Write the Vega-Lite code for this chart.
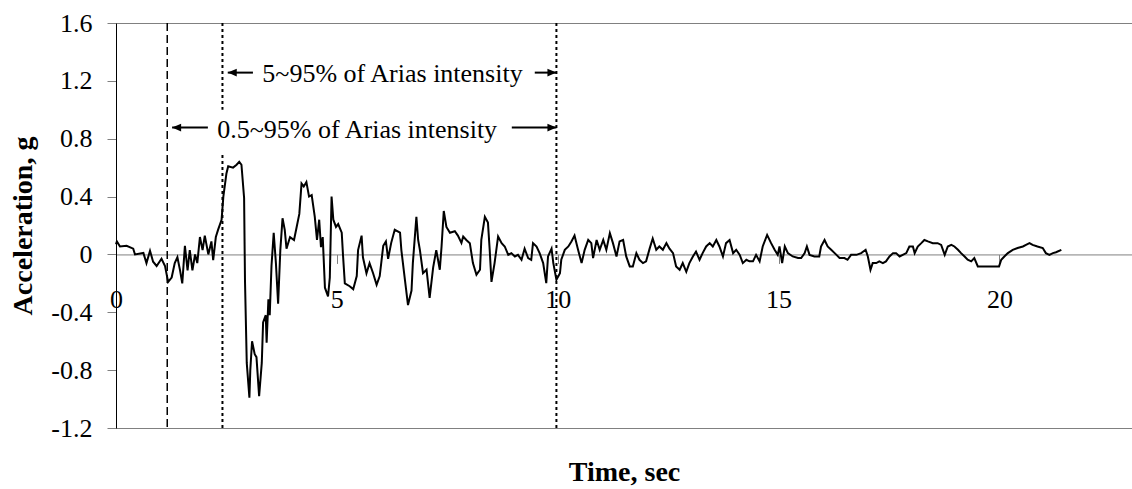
{
  "$schema": "https://vega.github.io/schema/vega-lite/v6.json",
  "width": 1016,
  "height": 405,
  "autosize": {"type": "none"},
  "padding": {"left": 116, "top": 23, "right": 0, "bottom": 61},
  "config": {
    "font": "Liberation Serif",
    "view": {"stroke": "#808080", "strokeWidth": 1},
    "axis": {
      "grid": false,
      "labelFont": "Liberation Serif",
      "labelFontSize": 26,
      "labelColor": "#000000",
      "titleFont": "Liberation Serif",
      "titleFontSize": 28,
      "titleFontWeight": "bold",
      "titleColor": "#000000",
      "tickColor": "#808080",
      "tickSize": 9,
      "tickWidth": 1,
      "labelFlush": false
    }
  },
  "datasets": {
    "trace": [
      {"t":0.0,"a":0.07},{"t":0.02,"a":0.09},{"t":0.09,"a":0.055},{"t":0.24,"a":0.06},{"t":0.39,"a":0.04},{"t":0.43,"a":0.0},{"t":0.62,"a":0.01},{"t":0.69,"a":-0.06},{"t":0.77,"a":0.025},{"t":0.84,"a":-0.05},{"t":0.92,"a":-0.08},{"t":1.03,"a":-0.03},{"t":1.11,"a":-0.08},{"t":1.18,"a":-0.19},{"t":1.26,"a":-0.16},{"t":1.33,"a":-0.06},{"t":1.39,"a":-0.02},{"t":1.45,"a":-0.11},{"t":1.50,"a":-0.2},{"t":1.56,"a":0.06},{"t":1.62,"a":-0.11},{"t":1.67,"a":0.03},{"t":1.73,"a":-0.11},{"t":1.79,"a":0.0},{"t":1.84,"a":-0.06},{"t":1.90,"a":0.12},{"t":1.96,"a":0.03},{"t":2.01,"a":0.13},{"t":2.09,"a":0.0},{"t":2.16,"a":0.09},{"t":2.20,"a":-0.04},{"t":2.26,"a":0.12},{"t":2.31,"a":0.17},{"t":2.39,"a":0.24},{"t":2.43,"a":0.40},{"t":2.50,"a":0.56},{"t":2.54,"a":0.61},{"t":2.65,"a":0.60},{"t":2.73,"a":0.62},{"t":2.79,"a":0.64},{"t":2.84,"a":0.62},{"t":2.90,"a":0.39},{"t":2.92,"a":-0.18},{"t":2.96,"a":-0.75},{"t":3.02,"a":-0.99},{"t":3.04,"a":-0.80},{"t":3.08,"a":-0.60},{"t":3.14,"a":-0.69},{"t":3.18,"a":-0.71},{"t":3.24,"a":-0.98},{"t":3.30,"a":-0.75},{"t":3.33,"a":-0.47},{"t":3.39,"a":-0.42},{"t":3.41,"a":-0.61},{"t":3.45,"a":-0.31},{"t":3.48,"a":-0.42},{"t":3.52,"a":-0.08},{"t":3.57,"a":0.15},{"t":3.62,"a":-0.06},{"t":3.67,"a":-0.34},{"t":3.72,"a":0.03},{"t":3.77,"a":0.25},{"t":3.82,"a":0.17},{"t":3.86,"a":0.04},{"t":3.94,"a":0.12},{"t":4.03,"a":0.10},{"t":4.09,"a":0.19},{"t":4.15,"a":0.28},{"t":4.20,"a":0.49},{"t":4.25,"a":0.47},{"t":4.31,"a":0.50},{"t":4.37,"a":0.40},{"t":4.43,"a":0.41},{"t":4.50,"a":0.26},{"t":4.55,"a":0.10},{"t":4.60,"a":0.24},{"t":4.64,"a":0.05},{"t":4.68,"a":0.12},{"t":4.73,"a":-0.23},{"t":4.80,"a":-0.29},{"t":4.84,"a":-0.16},{"t":4.88,"a":0.40},{"t":4.92,"a":0.24},{"t":4.98,"a":0.19},{"t":5.03,"a":0.21},{"t":5.11,"a":0.15},{"t":5.14,"a":-0.01},{"t":5.18,"a":-0.2},{"t":5.29,"a":-0.22},{"t":5.37,"a":-0.24},{"t":5.45,"a":-0.15},{"t":5.48,"a":0.03},{"t":5.56,"a":0.13},{"t":5.59,"a":-0.02},{"t":5.67,"a":-0.13},{"t":5.74,"a":-0.06},{"t":5.82,"a":-0.13},{"t":5.90,"a":-0.21},{"t":5.97,"a":-0.15},{"t":6.05,"a":0.06},{"t":6.11,"a":0.09},{"t":6.16,"a":-0.03},{"t":6.23,"a":0.08},{"t":6.31,"a":0.17},{"t":6.43,"a":0.15},{"t":6.46,"a":0.03},{"t":6.54,"a":-0.175},{"t":6.61,"a":-0.35},{"t":6.69,"a":-0.25},{"t":6.72,"a":-0.06},{"t":6.80,"a":0.26},{"t":6.84,"a":0.1},{"t":6.88,"a":0.03},{"t":6.95,"a":-0.13},{"t":7.03,"a":-0.106},{"t":7.10,"a":-0.30},{"t":7.18,"a":-0.09},{"t":7.25,"a":0.03},{"t":7.33,"a":-0.106},{"t":7.37,"a":0.055},{"t":7.42,"a":0.30},{"t":7.48,"a":0.19},{"t":7.56,"a":0.15},{"t":7.67,"a":0.16},{"t":7.74,"a":0.13},{"t":7.82,"a":0.08},{"t":7.86,"a":0.124},{"t":7.93,"a":0.10},{"t":8.01,"a":0.078},{"t":8.08,"a":-0.06},{"t":8.16,"a":-0.14},{"t":8.24,"a":-0.106},{"t":8.27,"a":0.10},{"t":8.35,"a":0.26},{"t":8.42,"a":0.22},{"t":8.46,"a":0.03},{"t":8.50,"a":-0.19},{"t":8.57,"a":-0.06},{"t":8.65,"a":0.124},{"t":8.73,"a":0.078},{"t":8.80,"a":0.055},{"t":8.88,"a":-0.003},{"t":8.95,"a":0.009},{"t":9.03,"a":-0.014},{"t":9.10,"a":-0.003},{"t":9.18,"a":-0.037},{"t":9.25,"a":0.04},{"t":9.33,"a":-0.025},{"t":9.40,"a":-0.037},{"t":9.44,"a":0.078},{"t":9.52,"a":0.055},{"t":9.59,"a":0.009},{"t":9.67,"a":-0.06},{"t":9.74,"a":-0.198},{"t":9.78,"a":-0.014},{"t":9.86,"a":0.04},{"t":9.90,"a":-0.06},{"t":9.97,"a":-0.175},{"t":10.05,"a":-0.13},{"t":10.08,"a":-0.037},{"t":10.16,"a":0.032},{"t":10.24,"a":0.055},{"t":10.31,"a":0.09},{"t":10.38,"a":0.13},{"t":10.46,"a":0.032},{"t":10.54,"a":-0.06},{"t":10.61,"a":0.032},{"t":10.69,"a":0.10},{"t":10.76,"a":0.078},{"t":10.80,"a":-0.025},{"t":10.88,"a":0.10},{"t":10.95,"a":0.032},{"t":11.03,"a":0.10},{"t":11.10,"a":0.032},{"t":11.18,"a":0.147},{"t":11.25,"a":0.078},{"t":11.33,"a":-0.014},{"t":11.40,"a":0.09},{"t":11.48,"a":0.10},{"t":11.55,"a":-0.014},{"t":11.63,"a":-0.083},{"t":11.70,"a":-0.083},{"t":11.78,"a":0.009},{"t":11.85,"a":-0.037},{"t":11.93,"a":-0.06},{"t":12.00,"a":-0.048},{"t":12.08,"a":0.04},{"t":12.15,"a":0.11},{"t":12.23,"a":0.032},{"t":12.30,"a":0.055},{"t":12.38,"a":0.032},{"t":12.46,"a":0.078},{"t":12.53,"a":0.04},{"t":12.61,"a":0.009},{"t":12.68,"a":-0.083},{"t":12.76,"a":-0.106},{"t":12.83,"a":-0.06},{"t":12.91,"a":-0.12},{"t":12.98,"a":-0.06},{"t":13.06,"a":-0.014},{"t":13.13,"a":0.02},{"t":13.21,"a":-0.037},{"t":13.28,"a":0.009},{"t":13.36,"a":0.055},{"t":13.44,"a":0.078},{"t":13.51,"a":0.055},{"t":13.59,"a":0.10},{"t":13.66,"a":0.055},{"t":13.74,"a":-0.014},{"t":13.81,"a":0.078},{"t":13.89,"a":0.10},{"t":13.97,"a":0.009},{"t":14.04,"a":0.032},{"t":14.12,"a":-0.003},{"t":14.19,"a":-0.06},{"t":14.27,"a":-0.037},{"t":14.34,"a":-0.048},{"t":14.42,"a":-0.048},{"t":14.49,"a":-0.003},{"t":14.57,"a":-0.048},{"t":14.64,"a":0.055},{"t":14.74,"a":0.135},{"t":14.83,"a":0.078},{"t":14.91,"a":0.032},{"t":14.98,"a":-0.003},{"t":15.02,"a":0.055},{"t":15.08,"a":-0.06},{"t":15.14,"a":0.055},{"t":15.21,"a":0.009},{"t":15.32,"a":-0.014},{"t":15.44,"a":-0.025},{"t":15.51,"a":-0.025},{"t":15.59,"a":0.009},{"t":15.64,"a":0.055},{"t":15.70,"a":-0.003},{"t":15.81,"a":-0.014},{"t":15.92,"a":-0.014},{"t":15.96,"a":0.055},{"t":16.04,"a":0.10},{"t":16.11,"a":0.055},{"t":16.19,"a":0.032},{"t":16.31,"a":-0.003},{"t":16.38,"a":-0.025},{"t":16.49,"a":-0.025},{"t":16.56,"a":-0.037},{"t":16.64,"a":-0.003},{"t":16.76,"a":-0.003},{"t":16.87,"a":0.009},{"t":16.97,"a":0.032},{"t":17.02,"a":-0.014},{"t":17.08,"a":-0.106},{"t":17.13,"a":-0.06},{"t":17.21,"a":-0.06},{"t":17.28,"a":-0.048},{"t":17.36,"a":-0.06},{"t":17.43,"a":-0.048},{"t":17.51,"a":-0.014},{"t":17.59,"a":0.009},{"t":17.66,"a":0.009},{"t":17.74,"a":-0.014},{"t":17.81,"a":-0.003},{"t":17.89,"a":0.009},{"t":17.96,"a":0.055},{"t":18.04,"a":0.055},{"t":18.08,"a":0.009},{"t":18.15,"a":0.055},{"t":18.23,"a":0.078},{"t":18.30,"a":0.10},{"t":18.38,"a":0.09},{"t":18.49,"a":0.078},{"t":18.60,"a":0.078},{"t":18.68,"a":0.066},{"t":18.76,"a":-0.003},{"t":18.83,"a":0.055},{"t":18.91,"a":0.066},{"t":18.98,"a":0.055},{"t":19.06,"a":0.032},{"t":19.13,"a":0.009},{"t":19.21,"a":-0.014},{"t":19.28,"a":-0.037},{"t":19.36,"a":-0.048},{"t":19.43,"a":-0.025},{"t":19.51,"a":-0.083},{"t":19.62,"a":-0.083},{"t":19.77,"a":-0.083},{"t":19.92,"a":-0.083},{"t":19.99,"a":-0.083},{"t":20.04,"a":-0.037},{"t":20.11,"a":-0.014},{"t":20.19,"a":0.009},{"t":20.30,"a":0.032},{"t":20.41,"a":0.044},{"t":20.53,"a":0.055},{"t":20.60,"a":0.066},{"t":20.68,"a":0.078},{"t":20.75,"a":0.066},{"t":20.86,"a":0.055},{"t":20.98,"a":0.044},{"t":21.05,"a":0.009},{"t":21.13,"a":-0.003},{"t":21.21,"a":0.009},{"t":21.28,"a":0.015},{"t":21.40,"a":0.032}
    ],
    "markers": [
      {"t": 1.16, "kind": "0.5% Arias"},
      {"t": 2.41, "kind": "5% Arias"},
      {"t": 9.97, "kind": "95% Arias"}
    ],
    "arrows": [
      {"band": "5~95%", "a": 1.257, "t": 3.10, "tip": 2.53, "dir": "left"},
      {"band": "5~95%", "a": 1.257, "t": 9.48, "tip": 9.97, "dir": "right"},
      {"band": "0.5~95%", "a": 0.877, "t": 2.08, "tip": 1.27, "dir": "left"},
      {"band": "0.5~95%", "a": 0.877, "t": 8.96, "tip": 9.97, "dir": "right"}
    ],
    "labels": [
      {"text": "5~95% of Arias intensity", "t": 6.26, "a": 1.245, "t_start": 3.2, "t_end": 9.35, "a_low": 1.12, "a_high": 1.37},
      {"text": "0.5~95% of Arias intensity", "t": 5.46, "a": 0.86, "t_start": 2.2, "t_end": 8.9, "a_low": 0.70, "a_high": 1.0}
    ]
  },
  "layer": [
    {
      "data": {"name": "trace"},
      "mark": {"type": "line", "color": "#000000", "strokeWidth": 2, "strokeJoin": "miter"},
      "encoding": {
        "x": {
          "field": "t",
          "type": "quantitative",
          "scale": {"domain": [0, 23], "nice": false},
          "axis": {
            "title": "Time, sec",
            "titleBaseline": "alphabetic",
            "titleY": 226,
            "values": [0, 5, 10, 15, 20],
            "format": "d",
            "offset": -173.57,
            "domainColor": "#808080",
            "domainWidth": 1,
            "labelPadding": 23
          }
        },
        "y": {
          "field": "a",
          "type": "quantitative",
          "scale": {"domain": [-1.2, 1.6], "nice": false, "zero": false},
          "axis": {
            "title": "Acceleration, g",
            "titlePadding": 13,
            "values": [-1.2, -0.8, -0.4, 0, 0.4, 0.8, 1.2, 1.6],
            "labelExpr": "'' + datum.value",
            "domainColor": "#000000",
            "domainWidth": 1,
            "labelPadding": 15
          }
        }
      }
    },
    {
      "data": {"name": "markers"},
      "transform": [{"filter": "datum.kind === '0.5% Arias'"}],
      "mark": {"type": "rule", "color": "#000000", "strokeWidth": 1.5, "strokeDash": [8, 4]},
      "encoding": {
        "x": {"field": "t", "type": "quantitative"}
      }
    },
    {
      "data": {"name": "markers"},
      "transform": [{"filter": "datum.kind !== '0.5% Arias'"}],
      "mark": {"type": "rule", "color": "#000000", "strokeWidth": 2, "strokeDash": [3, 3]},
      "encoding": {
        "x": {"field": "t", "type": "quantitative"}
      }
    },
    {
      "data": {"name": "labels"},
      "mark": {"type": "rect", "color": "#ffffff"},
      "encoding": {
        "x": {"field": "t_start", "type": "quantitative"},
        "x2": {"field": "t_end"},
        "y": {"field": "a_low", "type": "quantitative"},
        "y2": {"field": "a_high"}
      }
    },
    {
      "data": {"name": "arrows"},
      "mark": {"type": "rule", "color": "#000000", "strokeWidth": 2},
      "encoding": {
        "x": {"field": "t", "type": "quantitative"},
        "x2": {"field": "tip"},
        "y": {"field": "a", "type": "quantitative"}
      }
    },
    {
      "data": {"name": "arrows"},
      "mark": {"type": "point", "filled": true, "color": "#000000", "opacity": 1, "size": 81},
      "encoding": {
        "x": {"field": "tip", "type": "quantitative"},
        "y": {"field": "a", "type": "quantitative"},
        "shape": {
          "field": "dir",
          "type": "nominal",
          "scale": {"domain": ["left", "right"], "range": ["M0,0L2,-0.85L2,0.85Z", "M0,0L-2,-0.85L-2,0.85Z"]},
          "legend": null
        }
      }
    },
    {
      "data": {"name": "labels"},
      "mark": {"type": "text", "font": "Liberation Serif", "fontSize": 26, "color": "#000000", "align": "center", "baseline": "middle"},
      "encoding": {
        "x": {"field": "t", "type": "quantitative"},
        "y": {"field": "a", "type": "quantitative"},
        "text": {"field": "text"}
      }
    }
  ]
}
